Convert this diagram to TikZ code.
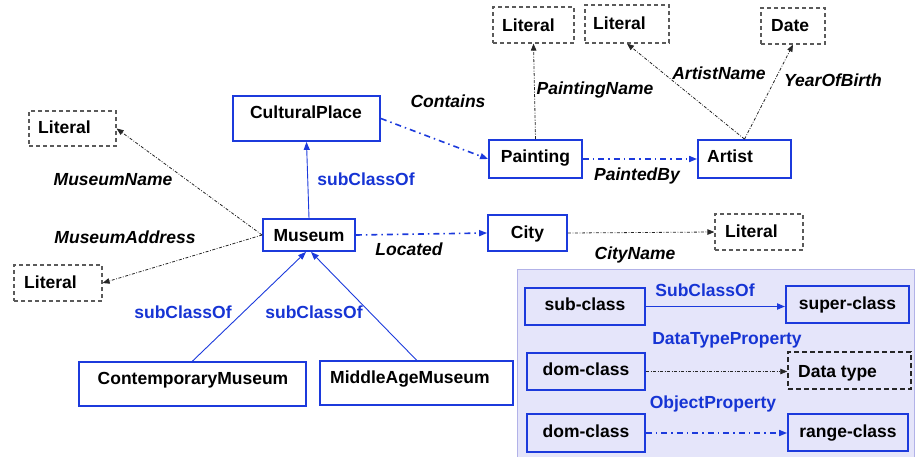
\documentclass[tikz,border=0pt]{standalone}
\usepackage{fontspec}
\setmainfont{Liberation Sans}
\usetikzlibrary{arrows.meta,fit}
\definecolor{clsblue}{RGB}{28,58,220}
\definecolor{lblblue}{RGB}{22,52,212}
\definecolor{litgray}{RGB}{90,90,90}
\definecolor{panelfill}{RGB}{229,229,250}
\definecolor{panelline}{RGB}{178,178,232}
\begin{document}
\begin{tikzpicture}[x=1pt,y=-1pt,
  font=\fontsize{17.5}{20}\selectfont\bfseries,
  cls/.style={draw=clsblue, line width=1.8pt, inner sep=0pt, fit={#1}},
  lit/.style={draw=litgray, line width=1.2pt, dash pattern=on 4pt off 3pt, inner sep=0pt, fit={#1}},
  dtbox/.style={draw=black!85, line width=1.5pt, dash pattern=on 5pt off 3pt, inner sep=0pt, fit={#1}},
  txt/.style={inner sep=0pt, text height=12.5pt, text depth=0pt},
  prop/.style={txt, font=\fontsize{17.5}{20}\selectfont\bfseries\itshape},
  axiom/.style={txt, text=lblblue},
  isa/.style={draw=clsblue, line width=0.9pt, -{Triangle[length=8pt,width=6pt]}},
  isabig/.style={draw=clsblue, line width=1.8pt, -{Triangle[length=8pt,width=6pt]}},
  objprop/.style={draw=clsblue, line width=1.6pt, dash pattern=on 6pt off 4pt on 1.5pt off 4pt, -{Triangle[length=8pt,width=6pt]}},
  dataprop/.style={draw=black!85, line width=0.8pt, dash pattern=on 3pt off 1.6pt on 0.8pt off 1.6pt, -{Triangle[length=7pt,width=5.5pt]}},
]
\useasboundingbox (0,0) rectangle (922,456);

% legend panel
\node[fill=panelfill, draw=panelline, line width=1pt, inner sep=0pt, fit={(517,269)(914,470)}] (legend) {};

% classes
\node[cls={(233,96)(380,141)}] (cp) {};
\node[txt] (cpt) at (306,112) {CulturalPlace};
\node[cls={(263,219)(355,251)}] (mus) {};
\node[txt] (must) at (309,235) {Museum};
\node[cls={(488,215)(567,251)}] (city) {};
\node[txt] (cityt) at (527.5,232) {City};
\node[cls={(489,140)(582,178)}] (paint) {};
\node[txt] (paintt) at (535.5,156) {Painting};
\node[cls={(698,140)(791,178)}] (artist) {};
\node[txt, anchor=west] (artistt) at (707,156) {Artist};
\node[cls={(79,362)(306,406)}] (cm) {};
\node[txt] (cmt) at (193,378) {ContemporaryMuseum};
\node[cls={(320,361)(513,405)}] (mam) {};
\node[txt, anchor=west] (mamt) at (330,377) {MiddleAgeMuseum};

% literals
\node[lit={(29,111)(116,146)}] (litmn) {};
\node[txt, anchor=west] (litmnt) at (38,127) {Literal};
\node[lit={(14,265)(102,301)}] (litma) {};
\node[txt, anchor=west] (litmat) at (24,282) {Literal};
\node[lit={(493,7)(574,43)}] (litpn) {};
\node[txt, anchor=west] (litpnt) at (502,25) {Literal};
\node[lit={(585,5)(669,43)}] (litan) {};
\node[txt, anchor=west] (litant) at (593,23) {Literal};
\node[lit={(761,8)(825,44)}] (date) {};
\node[txt, anchor=west] (datet) at (771,25) {Date};
\node[lit={(715,214)(803,250)}] (litcn) {};
\node[txt, anchor=west] (litcnt) at (725,231) {Literal};

% subclass links
\draw[isa] (mus.north) -- (cp.south);
\draw[isa] (cm.north) -- ([xshift=-3pt]mus.south);
\draw[isa] (mam.north) -- ([xshift=2pt]mus.south);

% object properties
\draw[objprop] (cp.east) -- (paint.west);
\draw[objprop] (paint.east) -- (artist.west);
\draw[objprop] (mus.east) -- (city.west);

% datatype properties
\draw[dataprop] (mus.west) -- (litmn.east);
\draw[dataprop] (mus.west) -- (litma.east);
\draw[dataprop] (paint.north) -- (litpn.south);
\draw[dataprop] (artist.north) -- (litan.south);
\draw[dataprop] (artist.north) -- (date.south);
\draw[dataprop] (city.east) -- (litcn.west);

% property labels
\node[prop] (lmn) at (113,179) {MuseumName};
\node[prop] (lma) at (125,237) {MuseumAddress};
\node[prop] (lco) at (448,101) {Contains};
\node[prop] (lpn) at (595,88) {PaintingName};
\node[prop] (lan) at (719,73) {ArtistName};
\node[prop] (lyb) at (833,80) {YearOfBirth};
\node[prop] (lpb) at (637,174) {PaintedBy};
\node[prop] (llo) at (409,249) {Located};
\node[prop] (lcn) at (635,253) {CityName};
\node[axiom] (ls1) at (366,179) {subClassOf};
\node[axiom] (ls2) at (183,312) {subClassOf};
\node[axiom] (ls3) at (314,312) {subClassOf};

% legend content
\node[cls={(525,288)(645,325)}] (sub) {};
\node[txt] (subt) at (585,304) {sub-class};
\node[cls={(786,286)(909,323)}] (super) {};
\node[txt] (supert) at (847.5,303) {super-class};
\node[cls={(527,353)(645,390)}] (dom1) {};
\node[txt] (dom1t) at (586,369) {dom-class};
\node[dtbox={(788,352)(911,389)}] (dtype) {};
\node[txt, anchor=west] (dtypet) at (798,371) {Data type};
\node[cls={(527,414)(645,452)}] (dom2) {};
\node[txt] (dom2t) at (586,431) {dom-class};
\node[cls={(788,414)(908,451)}] (range) {};
\node[txt] (ranget) at (848,431) {range-class};

\draw[isabig] (sub.east) -- (sub.east -| super.west);
\draw[dataprop] (dom1.east) -- (dom1.east -| dtype.west);
\draw[objprop] (dom2.east) -- (dom2.east -| range.west);

\node[axiom] (lsub) at (705,290) {SubClassOf};
\node[axiom] (ldt) at (727,338) {DataTypeProperty};
\node[axiom] (lop) at (713,402) {ObjectProperty};
\end{tikzpicture}
\end{document}
